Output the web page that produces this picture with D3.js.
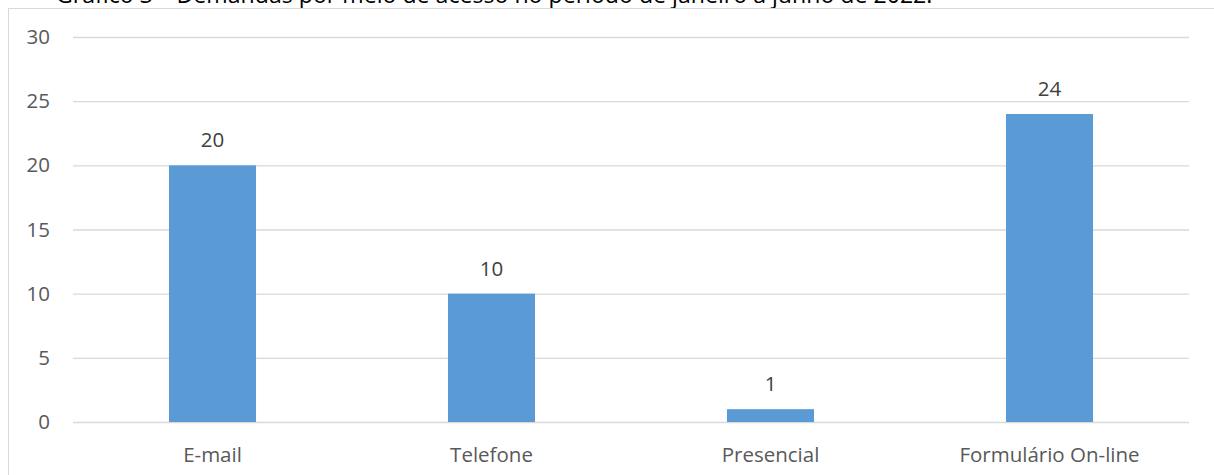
<!DOCTYPE html>
<html>
<head>
<meta charset="utf-8">
<script src="https://cdn.jsdelivr.net/npm/d3@7"></script>
<style>
  html, body { margin: 0; padding: 0; background: #fff; }
  svg { display: block; }
  text { font-family: "Open Sans", Lato, sans-serif; }
</style>
</head>
<body>
<svg id="chart" width="1214" height="475"></svg>
<script>
// Demandas por meio de acesso (jan–jun 2022)
const categories = ["E-mail", "Telefone", "Presencial", "Formulário On-line"];
const values = [20, 10, 1, 24];
const yTicks = [0, 5, 10, 15, 20, 25, 30];
const title = "Gráfico 3 – Demandas por meio de acesso no período de janeiro a junho de 2022.";

const svg = d3.select("#chart");
const W = 1214, H = 475;
const plot = { left: 73, right: 1189, top: 37, bottom: 422 };
const labelSize = "20.5px";

// Caption above the chart frame, sized to span its line
const cap = svg.append("text")
  .attr("x", 56).attr("y", 3)
  .attr("fill", "#000")
  .style("font-size", "19px")
  .text(title);
const capLen = cap.node().getComputedTextLength();
cap.style("font-size", (19 * 877 / capLen).toFixed(2) + "px");

// Chart frame
svg.append("rect")
  .attr("x", 8.5).attr("y", 8.5)
  .attr("width", W + 20).attr("height", H + 20)
  .attr("fill", "#fff")
  .attr("stroke", "#d9d9d9").attr("stroke-width", 1);

const x = d3.scaleBand().domain(categories).range([plot.left, plot.right]).padding(0);
const y = d3.scaleLinear().domain([0, 30]).range([plot.bottom, plot.top]);
const barW = x.bandwidth() * 0.312;

// Gridlines and value axis
const yAxis = svg.append("g")
  .attr("transform", `translate(${plot.left},0)`)
  .call(d3.axisLeft(y).tickValues(yTicks).tickSize(-(plot.right - plot.left)).tickPadding(23));
yAxis.select(".domain").remove();
yAxis.selectAll("line").attr("stroke", "#d9d9d9").attr("stroke-width", 1.3);
yAxis.selectAll("text")
  .attr("fill", "#595959")
  .style("font-size", labelSize)
  .style("font-family", "'Open Sans', Lato, sans-serif");

// Bars
svg.append("g").selectAll("rect")
  .data(values)
  .join("rect")
  .attr("x", (d, i) => x(categories[i]) + x.bandwidth() / 2 - barW / 2)
  .attr("y", d => y(d))
  .attr("width", barW)
  .attr("height", d => y(0) - y(d))
  .attr("fill", "#5b9bd5");

// Value labels
svg.append("g").selectAll("text")
  .data(values)
  .join("text")
  .attr("x", (d, i) => x(categories[i]) + x.bandwidth() / 2)
  .attr("y", d => y(d) - 18)
  .attr("text-anchor", "middle")
  .attr("fill", "#404040")
  .style("font-size", labelSize)
  .text(d => d);

// Category labels
svg.append("g").selectAll("text")
  .data(categories)
  .join("text")
  .attr("x", d => x(d) + x.bandwidth() / 2)
  .attr("y", 462)
  .attr("text-anchor", "middle")
  .attr("fill", "#595959")
  .style("font-size", labelSize)
  .text(d => d);
</script>
</body>
</html>
